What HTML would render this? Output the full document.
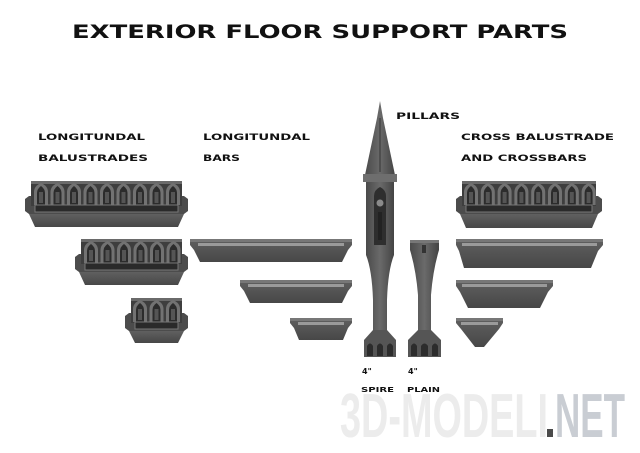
<!DOCTYPE html>
<html><head><meta charset="utf-8"><style>
html,body{margin:0;padding:0;background:#fff;width:640px;height:453px;overflow:hidden}
svg{display:block}
text{font-family:"DejaVu Sans","Liberation Sans",sans-serif;font-weight:bold}
</style></head><body>
<svg width="640" height="453" viewBox="0 0 640 453" xmlns="http://www.w3.org/2000/svg">
<defs>
<g id="arch">
<path d="M0 22 V9 Q0 3 7 0 Q14 3 14 9 V22 Z" fill="#727272"/>
<path d="M3 22 V10 Q3 6 7 3 Q11 6 11 10 V22 Z" fill="#2c2c2c"/>
<rect x="5" y="9" width="4" height="11" fill="#555"/>
</g>
<linearGradient id="body" x1="0" y1="0" x2="0" y2="1"><stop offset="0" stop-color="#606060"/><stop offset="1" stop-color="#474747"/></linearGradient>
<linearGradient id="col" x1="0" y1="0" x2="1" y2="0"><stop offset="0" stop-color="#4a4a4a"/><stop offset="0.5" stop-color="#6a6a6a"/><stop offset="1" stop-color="#444"/></linearGradient>
</defs>

<text x="72" y="38" font-size="19" textLength="496" lengthAdjust="spacingAndGlyphs" fill="#111">EXTERIOR FLOOR SUPPORT PARTS</text>

<g font-size="9" fill="#111">
<text x="38" y="140" textLength="107" lengthAdjust="spacingAndGlyphs">LONGITUNDAL</text>
<text x="38" y="161" textLength="110" lengthAdjust="spacingAndGlyphs">BALUSTRADES</text>
<text x="203" y="140" textLength="107" lengthAdjust="spacingAndGlyphs">LONGITUNDAL</text>
<text x="203" y="161" textLength="37" lengthAdjust="spacingAndGlyphs">BARS</text>
<text x="396" y="119" textLength="64" lengthAdjust="spacingAndGlyphs">PILLARS</text>
<text x="461" y="140" textLength="153" lengthAdjust="spacingAndGlyphs">CROSS BALUSTRADE</text>
<text x="461" y="161" textLength="126" lengthAdjust="spacingAndGlyphs">AND CROSSBARS</text>
<text x="362" y="374" font-size="8">4"</text>
<text x="408" y="374" font-size="8">4"</text>
<text x="361" y="392" font-size="7" textLength="33" lengthAdjust="spacingAndGlyphs">SPIRE</text>
<text x="407" y="392" font-size="7" textLength="33" lengthAdjust="spacingAndGlyphs">PLAIN</text>
</g>

<text x="340" y="437" font-size="62" fill="#ececec" textLength="208" lengthAdjust="spacingAndGlyphs" style="font-family:'Liberation Sans',sans-serif;font-weight:bold">3D-MODELI</text>
<rect x="547" y="429" width="6" height="8" fill="#4a4a4a"/>
<text x="555" y="437" font-size="62" fill="#c9cdd3" textLength="70" lengthAdjust="spacingAndGlyphs" style="font-family:'Liberation Sans',sans-serif;font-weight:bold">NET</text>

<!-- Balustrade large -->
<g>
<polygon points="25,199 29,196 184,196 188,199 188,211 184,214 29,214 25,211" fill="#4c4c4c"/>
<rect x="31" y="181" width="151" height="25" fill="#3e3e3e"/>
<rect x="31" y="181" width="151" height="3" fill="#6a6a6a"/>
<use href="#arch" x="34" y="183"/><use href="#arch" x="50.5" y="183"/><use href="#arch" x="67" y="183"/><use href="#arch" x="83.5" y="183"/><use href="#arch" x="100" y="183"/><use href="#arch" x="116.5" y="183"/><use href="#arch" x="133" y="183"/><use href="#arch" x="149.5" y="183"/><use href="#arch" x="166" y="183"/>
<rect x="35" y="205" width="143" height="7" fill="#2a2a2a" stroke="#777" stroke-width="1"/>
<polygon points="29,214 184,214 178,227 35,227" fill="url(#body)"/>
</g>
<!-- Balustrade medium -->
<g>
<polygon points="75,257 79,254 184,254 188,257 188,269 184,272 79,272 75,269" fill="#4c4c4c"/>
<rect x="81" y="239" width="101" height="25" fill="#3e3e3e"/>
<rect x="81" y="239" width="101" height="3" fill="#6a6a6a"/>
<use href="#arch" x="84" y="241"/><use href="#arch" x="100.5" y="241"/><use href="#arch" x="117" y="241"/><use href="#arch" x="133.5" y="241"/><use href="#arch" x="150" y="241"/><use href="#arch" x="166.5" y="241"/>
<rect x="85" y="263" width="93" height="7" fill="#2a2a2a" stroke="#777" stroke-width="1"/>
<polygon points="79,272 184,272 178,285 85,285" fill="url(#body)"/>
</g>
<!-- Balustrade small -->
<g>
<polygon points="125,316 129,313 184,313 188,316 188,328 184,331 129,331 125,328" fill="#4c4c4c"/>
<rect x="131" y="298" width="51" height="25" fill="#3e3e3e"/>
<rect x="131" y="298" width="51" height="3" fill="#6a6a6a"/>
<use href="#arch" x="133" y="300"/><use href="#arch" x="149.5" y="300"/><use href="#arch" x="166" y="300"/>
<rect x="135" y="322" width="43" height="7" fill="#2a2a2a" stroke="#777" stroke-width="1"/>
<polygon points="129,331 184,331 178,343 135,343" fill="url(#body)"/>
</g>
<!-- Cross balustrade -->
<g>
<polygon points="456,199 460,196 598,196 602,199 602,211 598,214 460,214 456,211" fill="#4c4c4c"/>
<rect x="462" y="181" width="134" height="25" fill="#3e3e3e"/>
<rect x="462" y="181" width="134" height="3" fill="#6a6a6a"/>
<use href="#arch" x="464" y="183"/><use href="#arch" x="480.8" y="183"/><use href="#arch" x="497.6" y="183"/><use href="#arch" x="514.4" y="183"/><use href="#arch" x="531.2" y="183"/><use href="#arch" x="548" y="183"/><use href="#arch" x="564.8" y="183"/><use href="#arch" x="581.6" y="183"/>
<rect x="466" y="205" width="126" height="7" fill="#2a2a2a" stroke="#777" stroke-width="1"/>
<polygon points="460,214 598,214 592,228 466,228" fill="url(#body)"/>
</g>

<!-- Bars -->
<g>
<polygon points="190,239 352,239 352,245 348,250 342,262 200,262 194,250 190,245" fill="url(#body)"/>
<rect x="190" y="239" width="162" height="3" fill="#777"/>
<rect x="198" y="243" width="146" height="3" fill="#9a9a9a"/>
<polygon points="240,280 352,280 352,286 348,291 342,303 250,303 244,291 240,286" fill="url(#body)"/>
<rect x="240" y="280" width="112" height="3" fill="#777"/>
<rect x="248" y="284" width="96" height="3" fill="#9a9a9a"/>
<polygon points="290,318 352,318 352,323 348,328 343,340 299,340 294,328 290,323" fill="url(#body)"/>
<rect x="290" y="318" width="62" height="3" fill="#777"/>
<rect x="298" y="322" width="46" height="3" fill="#9a9a9a"/>
</g>
<g>
<polygon points="456,239 603,239 603,245 598,251 591,268 464,268 459,251 456,245" fill="url(#body)"/>
<rect x="456" y="239" width="147" height="3" fill="#777"/>
<rect x="462" y="243" width="135" height="3" fill="#9a9a9a"/>
<polygon points="456,280 553,280 553,286 548,292 540,308 468,308 460,292 456,286" fill="url(#body)"/>
<rect x="456" y="280" width="97" height="3" fill="#777"/>
<rect x="462" y="284" width="85" height="3" fill="#9a9a9a"/>
<polygon points="456,318 503,318 503,323 499,329 484,347 475,347 461,329 456,323" fill="url(#body)"/>
<rect x="456" y="318" width="47" height="3" fill="#777"/>
<rect x="461" y="322" width="37" height="3" fill="#9a9a9a"/>
</g>

<!-- Spire pillar -->
<g>
<polygon points="380,101 383,118 395,175 365,175 377,118" fill="url(#col)"/>
<line x1="380" y1="118" x2="380" y2="172" stroke="#333" stroke-width="1"/>
<rect x="363" y="174" width="34" height="8" fill="#6e6e6e"/>
<path d="M366 182 H394 V255 Q388 270 387 300 V330 H373 V300 Q372 270 366 255 Z" fill="url(#col)"/>
<path d="M374 245 V196 Q374 190 380 187 Q386 190 386 196 V245 Z" fill="#2e2e2e"/>
<circle cx="380" cy="203" r="3.5" fill="#8a8a8a"/>
<rect x="378" y="212" width="4" height="28" fill="#222"/>
<path d="M364 357 V340 L373 330 H387 L396 340 V357 Z" fill="#555"/>
<path d="M367 356 V346 Q370 341 373 346 V356 Z M377 356 V346 Q380 341 383 346 V356 Z M387 356 V346 Q390 341 393 346 V356 Z" fill="#2c2c2c"/>
</g>
<!-- Plain pillar -->
<g>
<path d="M410 240 H439 V250 Q433 270 431 295 V330 H418 V295 Q416 270 410 250 Z" fill="url(#col)"/>
<rect x="410" y="240" width="29" height="3" fill="#777"/>
<rect x="422" y="245" width="4" height="8" fill="#333"/>
<path d="M408 357 V340 L418 330 H431 L441 340 V357 Z" fill="#555"/>
<path d="M411 356 V346 Q414 341 417 346 V356 Z M421 356 V346 Q424.5 341 428 346 V356 Z M432 356 V346 Q435 341 438 346 V356 Z" fill="#2c2c2c"/>
</g>
</svg>
</body></html>
